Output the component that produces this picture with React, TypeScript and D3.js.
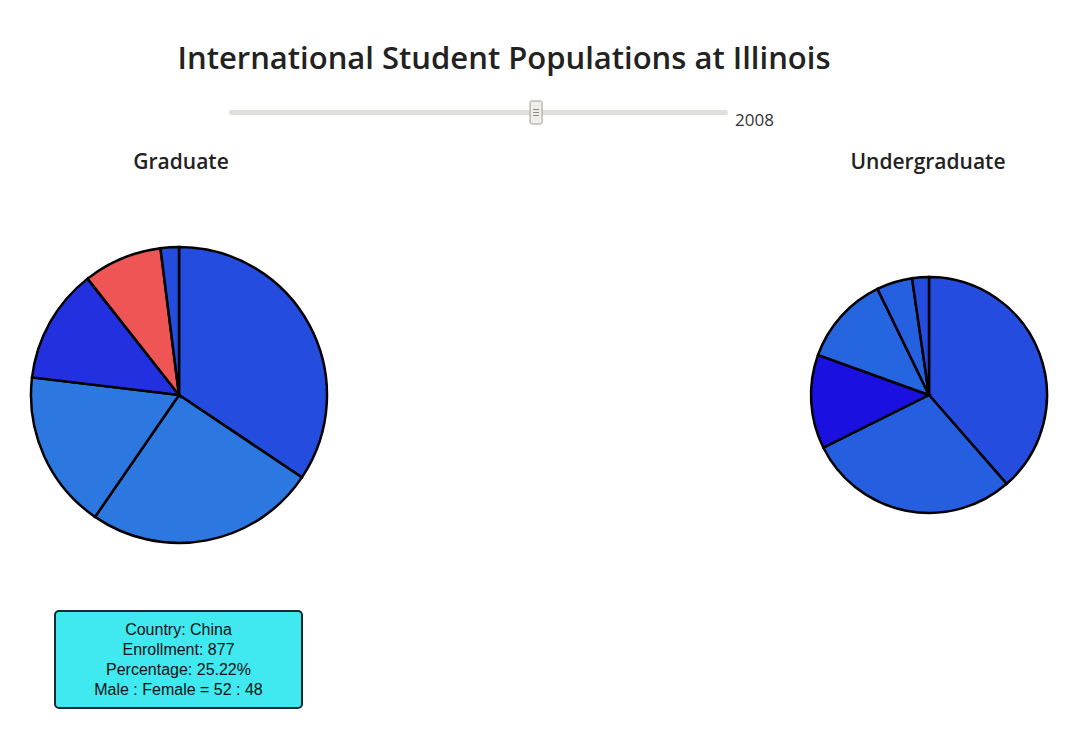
import React from "react";
import * as d3 from "d3";

const gradValues = [34.4, 25.2, 17.3, 12.5, 8.6, 2.0];
const gradColors = ["#244de0", "#2d78e0", "#2d78e0", "#2330e0", "#ef5555", "#244de0"];
const ugValues = [38.6, 29.1, 12.9, 12.3, 4.9, 2.3];
const ugColors = ["#244de0", "#255fe0", "#1a10e0", "#2566e0", "#2560e0", "#244de0"];
const tooltipLines = ["Country: China", "Enrollment: 877", "Percentage: 25.22%", "Male : Female = 52 : 48"];
const yearMin = 2000, yearMax = 2013, year = 2008;

function Pie({ values, colors, cx, cy, r }: { values: number[]; colors: string[]; cx: number; cy: number; r: number }) {
  const arcs = d3.pie<number>().sort(null).value(d => d)(values);
  const arc = d3.arc<d3.PieArcDatum<number>>().innerRadius(0).outerRadius(r);
  return (
    <g transform={`translate(${cx},${cy})`}>
      {arcs.map((a, i) => (
        <path key={i} d={arc(a) || ""} fill={colors[i]} stroke="#000" strokeWidth={2.5} />
      ))}
    </g>
  );
}

export default function App() {
  const sx = d3.scaleLinear().domain([yearMin, yearMax]).range([229, 728]);
  const font = "'Segoe UI', 'Open Sans', 'Noto Sans', sans-serif";
  return (
    <svg width={1088} height={734} style={{ position: "absolute", left: 0, top: 0 }}>
      <rect width={1088} height={734} fill="#fff" />
      <text x={504} y={69} textAnchor="middle" fontFamily={font} fontSize={31} fontWeight={600} fill="#222">International Student Populations at Illinois</text>
      <rect x={229} y={110} width={499} height={5} rx={2} fill="#e0dfdb" />
      <rect x={sx(year) - 6} y={101} width={12} height={23} rx={1.5} fill="#efeeeb" stroke="#a09d98" />
      {[-3, 0, 3].map(d => <line key={d} x1={sx(year) - 3} x2={sx(year) + 3} y1={112.5 + d} y2={112.5 + d} stroke="#888" />)}
      <text x={735} y={126} fontFamily={font} fontSize={17} fill="#333">{year}</text>
      <text x={181} y={169} textAnchor="middle" fontFamily={font} fontSize={21} fontWeight={600} fill="#222">Graduate</text>
      <text x={928} y={169} textAnchor="middle" fontFamily={font} fontSize={21} fontWeight={600} fill="#222">Undergraduate</text>
      <Pie values={gradValues} colors={gradColors} cx={179} cy={395} r={148} />
      <Pie values={ugValues} colors={ugColors} cx={929} cy={395} r={118} />
      <rect x={55} y={611} width={247} height={97} rx={4} fill="#40e8f0" stroke="#1a2a33" strokeWidth={2} />
      {tooltipLines.map((t, i) => (
        <text key={i} x={178.5} y={635 + i * 20} textAnchor="middle" fontFamily="'Liberation Sans', Arial, sans-serif" fontSize={16} fill="#111">{t}</text>
      ))}
    </svg>
  );
}
